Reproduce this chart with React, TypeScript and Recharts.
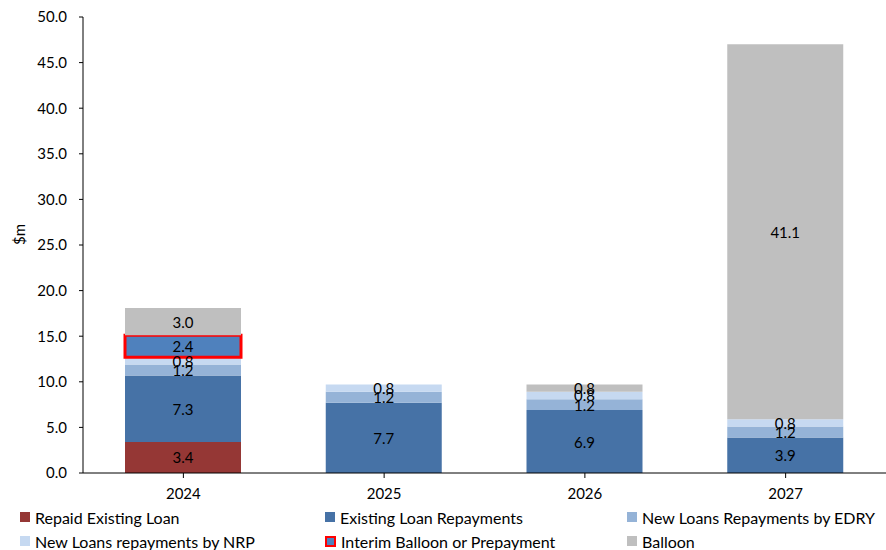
import React from 'react';
import { BarChart, Bar, XAxis, YAxis, LabelList } from 'recharts';

const years = ['2024', '2025', '2026', '2027'];

const repaidExisting = [3.4, null, null, null];
const existingRepayments = [7.3, 7.7, 6.9, 3.9];
const edryRepayments = [1.2, 1.2, 1.2, 1.2];
const nrpRepayments = [0.8, 0.8, 0.8, 0.8];
const interimBalloon = [2.4, 0.0, 0.0, null];
const balloon = [3.0, 0.0, 0.8, 41.1];

const yTicks = [0, 5, 10, 15, 20, 25, 30, 35, 40, 45, 50];

const series = [
  { key: 'repaid', name: 'Repaid Existing Loan', fill: '#953735', values: repaidExisting },
  { key: 'existing', name: 'Existing Loan Repayments', fill: '#4672A6', values: existingRepayments },
  { key: 'edry', name: 'New Loans Repayments by EDRY', fill: '#95B3D7', values: edryRepayments },
  { key: 'nrp', name: 'New Loans repayments by NRP', fill: '#C6D9F1', values: nrpRepayments },
  { key: 'interim', name: 'Interim Balloon or Prepayment', fill: '#4F81BD', stroke: '#FF0000', values: interimBalloon },
  { key: 'balloon', name: 'Balloon', fill: '#BFBFBF', values: balloon },
];

const data = years.map((year, i) => {
  const row: Record<string, string | number | null> = { year };
  series.forEach((s) => {
    row[s.key] = s.values[i];
  });
  return row;
});

const FONT = 'Lato, "Open Sans", sans-serif';

const renderValue = (props: any) => {
  const { x, y, width, height, value } = props;
  if (value === null || value === undefined) return null;
  return (
    <text
      x={x + width / 2}
      y={y + height / 2}
      textAnchor="middle"
      dominantBaseline="central"
      fontSize={15}
      fontFamily={FONT}
      fill="#000"
    >
      {Number(value).toFixed(1)}
    </text>
  );
};

// legend laid out as 3 columns x 2 rows under the axis
const legendCols = [20, 325, 627];
const legendRows = [517, 541];

const App = () => {
  return (
    <div style={{ position: 'absolute', left: 0, top: 0, width: 886, height: 550, background: '#fff', fontFamily: FONT }}>
      <BarChart
        width={886}
        height={550}
        data={data}
        margin={{ top: 17, right: 0, bottom: 47, left: 0 }}
        barSize={116}
      >
        <XAxis
          dataKey="year"
          axisLine={{ stroke: '#000' }}
          tickLine={{ stroke: '#000' }}
          tickSize={5}
          tickMargin={10}
          height={30}
          interval={0}
          tick={{ fill: '#000', fontSize: 15, fontFamily: FONT }}
        />
        <YAxis
          domain={[0, 50]}
          ticks={yTicks}
          tickFormatter={(v: number) => v.toFixed(1)}
          axisLine={{ stroke: '#000' }}
          tickLine={{ stroke: '#000' }}
          tickSize={4}
          tickMargin={12}
          width={83}
          interval={0}
          tick={{ fill: '#000', fontSize: 15, fontFamily: FONT }}
          label={{ value: '$m', angle: -90, position: 'insideLeft', offset: 20, fill: '#000', fontSize: 15, fontFamily: FONT }}
        />
        {series.map((s) => (
          <Bar
            key={s.key}
            dataKey={s.key}
            name={s.name}
            stackId="a"
            fill={s.fill}
            stroke={s.stroke}
            strokeWidth={s.stroke ? 3 : 0}
            isAnimationActive={false}
          >
            <LabelList dataKey={s.key} content={renderValue} />
          </Bar>
        ))}
      </BarChart>
      {series.map((s, i) => {
        const left = legendCols[i % 3];
        const top = legendRows[Math.floor(i / 3)];
        return (
          <div
            key={s.key}
            style={{
              position: 'absolute',
              left,
              top: top - 10,
              height: 20,
              display: 'flex',
              alignItems: 'center',
              fontSize: 16,
              color: '#000',
              whiteSpace: 'nowrap',
            }}
          >
            <span
              style={{
                display: 'inline-block',
                width: s.stroke ? 7 : 10,
                height: s.stroke ? 7 : 10,
                background: s.fill,
                border: s.stroke ? `2px solid ${s.stroke}` : 'none',
                marginRight: 5,
              }}
            />
            {s.name}
          </div>
        );
      })}
    </div>
  );
};

export default App;
